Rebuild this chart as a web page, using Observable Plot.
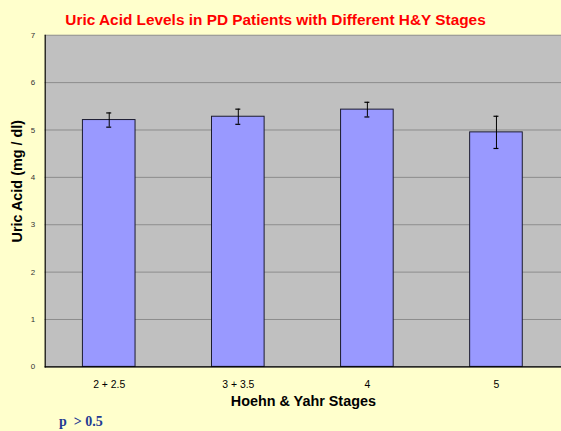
<!DOCTYPE html>
<html><head><meta charset="utf-8">
<script src="https://cdn.jsdelivr.net/npm/d3@7"></script>
<script src="https://cdn.jsdelivr.net/npm/@observablehq/plot@0.6"></script>
<style>
html,body{margin:0;padding:0;background:#FFFFCC;overflow:hidden;width:561px;height:431px;}
#c{position:relative;width:561px;height:431px;}
#p{position:absolute;left:59px;top:414px;font-family:"Liberation Serif",serif;font-weight:bold;font-size:14px;color:#1F3A93;white-space:pre;}
</style></head>
<body><div id="c"></div>
<script>
const stages = ["2 + 2.5", "3 + 3.5", "4", "5"];
const means = [5.21, 5.28, 5.43, 4.95];
const errors = [0.15, 0.16, 0.155, 0.34];
const yTicks = [0, 1, 2, 3, 4, 5, 6, 7];

const data = stages.map((s, i) => ({stage: s, mean: means[i], lo: means[i] - errors[i], hi: means[i] + errors[i]}));
const font = "Liberation Sans, Arial, sans-serif";

const chart = Plot.plot({
  width: 565, height: 431,
  marginLeft: 45, marginRight: 0, marginTop: 35, marginBottom: 62,
  style: {background: "transparent", fontFamily: font},
  x: {domain: stages, paddingInner: 0.59, paddingOuter: 0.295, align: 0.5},
  y: {domain: [0, 7]},
  marks: [
    Plot.frame({fill: "#C0C0C0", stroke: null}),
    Plot.gridY(yTicks, {stroke: "#8C8C8C", strokeOpacity: 1, strokeWidth: 1}),
    Plot.barY(data, {x: "stage", y: "mean", fill: "#9999FF", stroke: "#1a1a2e", strokeWidth: 1}),
    Plot.ruleX(data, {x: "stage", y1: "lo", y2: "hi", stroke: "#000", strokeWidth: 1}),
    Plot.tickY(data, {x: "stage", y: "lo", stroke: "#000", strokeWidth: 1.2, inset: 24}),
    Plot.tickY(data, {x: "stage", y: "hi", stroke: "#000", strokeWidth: 1.2, inset: 24}),
    Plot.ruleY([0], {stroke: "#000", strokeWidth: 1.2}),
    Plot.frame({anchor: "left", stroke: "#000", strokeWidth: 1.2}),
    Plot.axisY(yTicks, {tickSize: 0, tickPadding: 10, fontSize: 8, fill: "#333", label: null}),
    Plot.axisX({tickSize: 0, tickPadding: 14, fontSize: 10.5, fill: "#000", label: null}),
    Plot.text(["Uric Acid Levels in PD Patients with Different H&Y Stages"], {frameAnchor: "top", dy: -21, fontSize: 15.5, fontWeight: "bold", fill: "#FF0000", dx: -28}),
    Plot.text(["Hoehn & Yahr Stages"], {frameAnchor: "bottom", dy: 39, fontSize: 14.5, fontWeight: "bold", fill: "#000"}),
    Plot.text(["Uric Acid (mg / dl)"], {frameAnchor: "left", textAnchor: "middle", rotate: -90, dx: -28, dy: -20, fontSize: 14.5, fontWeight: "bold", fill: "#000"})
  ]
});
document.getElementById("c").appendChild(chart);
const p = document.createElement("div");
p.id = "p";
p.textContent = "p  > 0.5";
document.getElementById("c").appendChild(p);
</script></body></html>
